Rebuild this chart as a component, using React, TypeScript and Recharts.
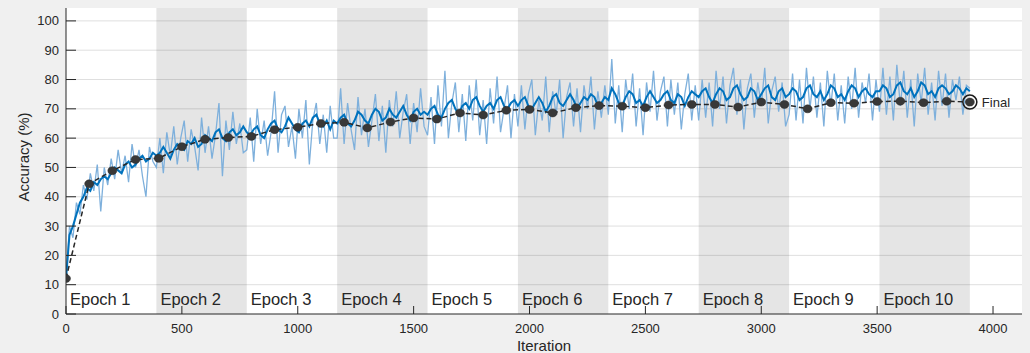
import React from 'react';
import { ComposedChart, Line, XAxis, YAxis, ReferenceArea, ReferenceLine, ReferenceDot } from 'recharts';

// ---- data ----
const epochLabels = ['Epoch 1', 'Epoch 2', 'Epoch 3', 'Epoch 4', 'Epoch 5', 'Epoch 6', 'Epoch 7', 'Epoch 8', 'Epoch 9', 'Epoch 10'];
const ITERS_PER_EPOCH = 390;
const RAW_STEP = 15; // iterations between sampled training points
const VAL_STEP = 100; // validation frequency

const xTicks = [0, 500, 1000, 1500, 2000, 2500, 3000, 3500, 4000];
const yTicks = [0, 10, 20, 30, 40, 50, 60, 70, 80, 90, 100];
const gridTicks = [10, 20, 30, 40, 50, 60, 70, 80, 90, 100];
const X_MAX = 4125;
const Y_MAX = 104.4;

// training accuracy (raw), sampled every RAW_STEP iterations
const rawAcc = [
  12, 30, 26, 38, 34, 44, 39, 48, 42, 51, 35, 50, 44, 53, 46, 56, 48, 54, 45, 58, 50, 56, 47, 40, 57, 52,
  50, 60, 48, 62, 54, 64, 51, 60, 66, 52, 63, 57, 49, 67, 55, 64, 53, 61, 72, 47, 66, 56, 69, 58, 65, 55,
  56, 67, 52, 70, 58, 66, 54, 62, 76, 55, 68, 71, 57, 64, 53, 70, 60, 73, 51, 66, 72, 58, 68, 55, 71, 60,
  60, 77, 58, 72, 63, 56, 74, 61, 70, 57, 66, 75, 59, 71, 55, 73, 64, 76, 60, 69, 75, 58, 72, 62, 77, 64,
  61, 74, 58, 78, 64, 83, 60, 72, 79, 62, 75, 59, 78, 66, 80, 61, 73, 58, 77, 65, 81, 62, 70, 78, 60, 75,
  64, 78, 63, 75, 80, 61, 73, 66, 81, 62, 76, 68, 80, 60, 74, 79, 64, 77, 62, 78, 70, 81, 63, 76, 67, 78,
  68, 87, 65, 78, 62, 80, 70, 82, 64, 77, 61, 79, 69, 83, 66, 76, 81, 64, 80, 68, 79, 63, 75, 82, 66, 78,
  66, 80, 67, 79, 64, 83, 70, 81, 65, 78, 84, 68, 80, 63, 77, 82, 67, 79, 71, 84, 65, 76, 81, 69, 79, 64,
  68, 82, 66, 80, 65, 84, 70, 81, 67, 79, 64, 83, 71, 82, 66, 78, 65, 81, 70, 84, 67, 79, 72, 82, 66, 80,
  69, 84, 68, 81, 66, 85, 71, 83, 67, 80, 64, 82, 72, 84, 68, 79, 66, 83, 71, 82, 67, 80, 73, 81, 68, 78,
  77,
];

// training accuracy (smoothed), same sampling
const smoothAcc = [
  12, 27, 30, 34, 38, 40, 43, 42, 45, 44, 46, 47, 46, 48, 50, 49, 48, 51, 52, 50, 51, 53, 54, 52, 53, 55,
  54, 55, 57, 55, 53, 56, 58, 57, 56, 59, 58, 60, 57, 58, 61, 60, 59, 62, 63, 60, 59, 62, 63, 61, 62, 64,
  62, 61, 63, 64, 61, 60, 63, 65, 66, 63, 62, 64, 67, 65, 63, 62, 65, 66, 64, 67, 68, 65, 64, 66, 63, 66,
  65, 67, 68, 65, 64, 66, 69, 68, 66, 65, 68, 70, 69, 66, 67, 70, 68, 67, 69, 71, 68, 66, 69, 70, 68, 69,
  68, 70, 71, 68, 67, 70, 72, 73, 70, 68, 71, 72, 70, 73, 74, 71, 69, 71, 72, 70, 73, 74, 71, 70, 72, 73,
  71, 73, 74, 71, 70, 72, 74, 72, 69, 71, 74, 75, 72, 71, 73, 75, 73, 70, 72, 74, 73, 75, 74, 71, 72, 74,
  73, 77, 75, 72, 71, 74, 76, 75, 72, 73, 71, 74, 76, 74, 72, 73, 75, 76, 73, 72, 75, 74, 71, 74, 76, 75,
  74, 76, 77, 74, 72, 75, 77, 76, 73, 74, 77, 78, 75, 73, 74, 77, 76, 73, 75, 77, 78, 74, 73, 76, 77, 74,
  75, 77, 76, 73, 74, 77, 78, 75, 74, 76, 73, 75, 78, 77, 74, 75, 73, 76, 78, 77, 74, 76, 77, 75, 74, 76,
  76, 78, 77, 74, 75, 78, 79, 76, 75, 77, 74, 76, 79, 78, 75, 76, 74, 77, 78, 77, 75, 76, 78, 77, 75, 77,
  76,
];

// validation accuracy every VAL_STEP iterations (0 .. 3900)
const valAcc = [
  12.1, 44.4, 48.9, 52.7, 53.1, 57.1, 59.6, 60.2, 60.6, 62.9,
  63.7, 65.0, 65.4, 63.5, 65.5, 66.9, 66.5, 68.6, 67.9, 69.5,
  69.8, 68.6, 70.4, 71.1, 70.9, 70.4, 71.3, 71.5, 71.5, 70.6,
  72.3, 71.5, 70.0, 72.1, 71.9, 72.5, 72.6, 72.1, 72.6, 72.3,
];

// ---- build table for the library ----
type Row = { iter: number; raw?: number; smooth?: number; val?: number };
const rowMap = new Map<number, Row>();
const getRow = (it: number) => {
  let r = rowMap.get(it);
  if (!r) {
    r = { iter: it };
    rowMap.set(it, r);
  }
  return r;
};
rawAcc.forEach((v, i) => { getRow(i * RAW_STEP).raw = v; });
smoothAcc.forEach((v, i) => { getRow(i * RAW_STEP).smooth = v; });
valAcc.forEach((v, i) => { getRow(i * VAL_STEP).val = v; });
const data = Array.from(rowMap.values()).sort((a, b) => a.iter - b.iter);
const finalIter = (valAcc.length - 1) * VAL_STEP;
const finalVal = valAcc[valAcc.length - 1];

const FONT = '"Liberation Sans", Arial, Helvetica, sans-serif';
const INK = '#262626';

const YTick = (props: any) => {
  const { x, y, payload } = props;
  return (
    <g>
      <line x1={x + 7} x2={x + 17} y1={y} y2={y} stroke={INK} strokeWidth={1} />
      <text x={x} y={y} dy="0.35em" textAnchor="end" fontSize={13} fill={INK} fontFamily={FONT}>
        {payload.value}
      </text>
    </g>
  );
};

const XTick = (props: any) => {
  const { x, y, payload } = props;
  return (
    <g>
      <line x1={x} x2={x} y1={y - 10} y2={y - 18} stroke={INK} strokeWidth={1} />
      <text x={x} y={y} dy="0.71em" textAnchor="middle" fontSize={13} fill={INK} fontFamily={FONT}>
        {payload.value}
      </text>
    </g>
  );
};

const EpochLabel = (props: any) => {
  const vb = props.viewBox || {};
  return (
    <text x={vb.x + 4} y={vb.y + vb.height - 9} fontSize={16.5} fill={INK} fontFamily={FONT}>
      {props.text}
    </text>
  );
};

const YLabel = (props: any) => {
  const vb = props.viewBox || {};
  const cx = 29;
  const cy = vb.y + vb.height / 2 - 4;
  return (
    <text x={cx} y={cy} transform={`rotate(-90 ${cx} ${cy})`} textAnchor="middle" fontSize={15} fill={INK} fontFamily={FONT}>
      Accuracy (%)
    </text>
  );
};

const XLabel = (props: any) => {
  const vb = props.viewBox || {};
  return (
    <text x={vb.x + vb.width / 2} y={351} textAnchor="middle" fontSize={15} fill={INK} fontFamily={FONT}>
      Iteration
    </text>
  );
};

const FinalLabel = (props: any) => {
  const vb = props.viewBox || {};
  const cx = vb.x + (vb.width || 0) / 2;
  const cy = vb.y + (vb.height || 0) / 2;
  return (
    <text x={cx + 12} y={cy} dy="0.36em" fontSize={13} fill={INK} fontFamily={FONT}>
      Final
    </text>
  );
};

const ValDot = (props: any) => {
  const { cx, cy, value, index } = props;
  if (value == null || cx == null || cy == null) return <g key={`vd-${index}`} />;
  return <ellipse key={`vd-${index}`} cx={cx} cy={cy} rx={4.5} ry={4} fill="#383838" stroke="#2a2a2a" strokeWidth={0.5} />;
};

export default function App() {
  return (
    <div style={{ position: 'absolute', left: 0, top: 0, width: 1030, height: 353, background: '#f0f0f0' }}>
      <ComposedChart width={1030} height={353} data={data} margin={{ top: 8, right: 8, left: 0, bottom: 0 }}>
        <XAxis
          dataKey="iter"
          type="number"
          domain={[0, X_MAX]}
          ticks={xTicks}
          allowDataOverflow
          height={39}
          tickSize={0}
          tickMargin={10}
          tick={<XTick />}
          axisLine={{ stroke: INK, strokeWidth: 1 }}
          tickLine={false}
          label={<XLabel />}
        />
        <YAxis
          type="number"
          domain={[0, Y_MAX]}
          ticks={yTicks}
          allowDataOverflow
          width={66}
          tickSize={0}
          tickMargin={7}
          tick={<YTick />}
          axisLine={{ stroke: INK, strokeWidth: 1 }}
          tickLine={false}
          label={<YLabel />}
        />
        <ReferenceArea x1={0} x2={X_MAX} y1={0} y2={Y_MAX} fill="#ffffff" fillOpacity={1} stroke="none" ifOverflow="hidden" zIndex={40} />
        {epochLabels.map((lab, i) => (
          <ReferenceArea
            key={lab}
            x1={i * ITERS_PER_EPOCH}
            x2={(i + 1) * ITERS_PER_EPOCH}
            y1={0}
            y2={Y_MAX}
            fill={i % 2 === 1 ? '#e5e5e5' : '#ffffff'}
            fillOpacity={i % 2 === 1 ? 1 : 0}
            stroke="none"
            zIndex={50}
            label={<EpochLabel text={lab} />}
          />
        ))}
        {gridTicks.map((t) => (
          <ReferenceLine key={`g${t}`} y={t} stroke={INK} strokeOpacity={0.15} strokeWidth={1} zIndex={60} />
        ))}
        <Line dataKey="raw" stroke="#7eb0dc" strokeWidth={1.3} dot={false} connectNulls isAnimationActive={false} />
        <Line dataKey="smooth" stroke="#0072bd" strokeWidth={2} dot={false} connectNulls isAnimationActive={false} />
        <Line
          dataKey="val"
          stroke="#262626"
          strokeWidth={1.5}
          strokeDasharray="5 3"
          dot={<ValDot />}
          connectNulls
          isAnimationActive={false}
        />
        <ReferenceDot
          x={finalIter}
          y={finalVal}
          r={7}
          fill="none"
          stroke="#1a1a1a"
          strokeWidth={1.5}
          label={<FinalLabel />}
        />
      </ComposedChart>
    </div>
  );
}
